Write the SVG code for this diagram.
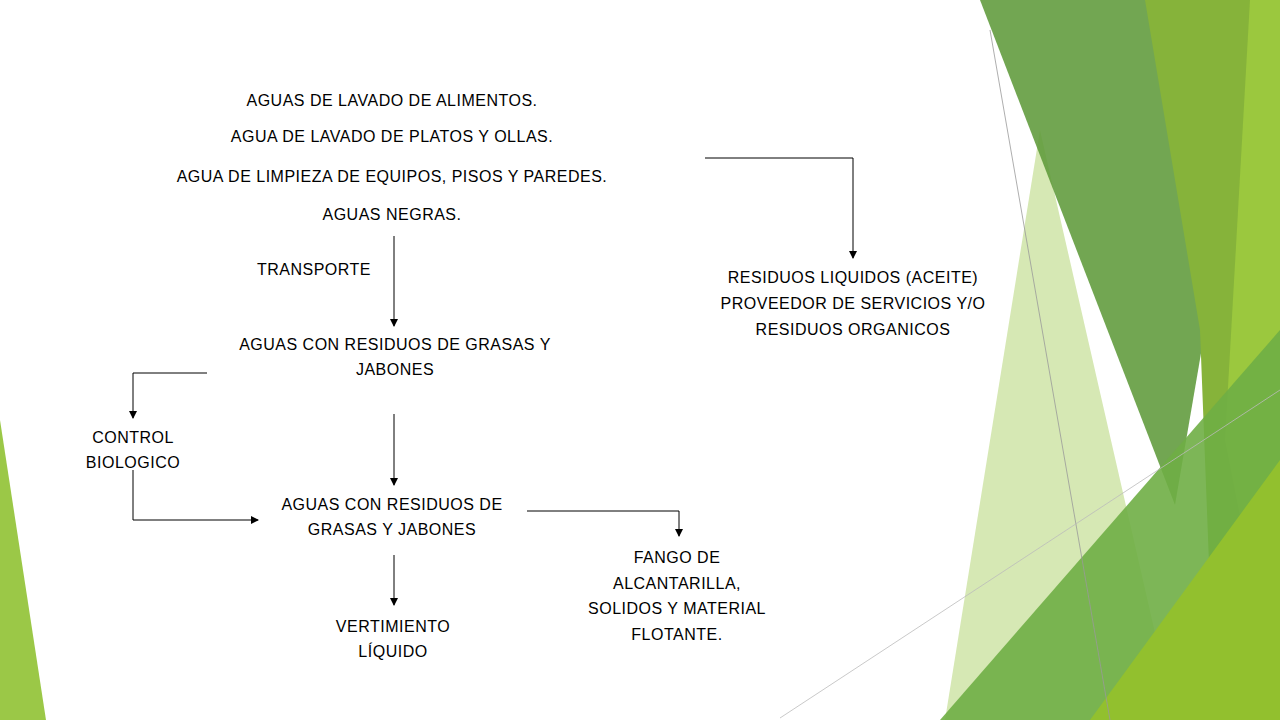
<svg xmlns="http://www.w3.org/2000/svg" width="1280" height="720" viewBox="0 0 1280 720">
<defs>
<marker id="ah" markerWidth="8" markerHeight="8" refX="7" refY="4" orient="auto" markerUnits="userSpaceOnUse"><path d="M0,0 L8,4 L0,8 z" fill="#000"/></marker>
<style>
text{font-family:"Liberation Sans","DejaVu Sans",sans-serif;font-size:16px;fill:#000;text-anchor:middle;letter-spacing:0.5px}
.c{fill:none;stroke:#000;stroke-width:1;marker-end:url(#ah)}
</style>
</defs>
<rect width="1280" height="720" fill="#fff"/>
<g id="decor">
<polygon points="0,420 0,720 46,720" fill="#9bc847"/>
<polygon points="1040,130 1175,720 945,720" fill="#d6e8b4"/>
<polygon points="980,0 1160,0 1205,330 1175,505" fill="#5f9a3a" opacity="0.88"/>
<polygon points="1145,0 1280,0 1280,720 1215,720 1200,330" fill="#86b33a"/>
<polygon points="1250,0 1280,0 1280,720 1225,440" fill="#9bc83e"/>
<polygon points="940,720 1280,330 1280,720" fill="#6fae45" opacity="0.9"/>
<polygon points="1090,720 1280,460 1280,720" fill="#92c02e"/>
<line x1="990" y1="30" x2="1110" y2="720" stroke="#999" stroke-width="0.8"/>
<line x1="780" y1="718" x2="1280" y2="390" stroke="#bbb" stroke-width="0.8"/>
</g>
<g id="n1"><text x="392" y="106">AGUAS DE LAVADO DE ALIMENTOS.</text><text x="392" y="142">AGUA DE LAVADO DE PLATOS Y OLLAS.</text><text x="392" y="182">AGUA DE LIMPIEZA DE EQUIPOS, PISOS Y   PAREDES.</text><text x="392" y="220">AGUAS NEGRAS.</text></g>
<g id="n2"><text x="314" y="275">TRANSPORTE</text></g>
<g id="n3"><text x="853" y="283">RESIDUOS LIQUIDOS (ACEITE)</text><text x="853" y="309">PROVEEDOR DE SERVICIOS Y/O</text><text x="853" y="335">RESIDUOS ORGANICOS</text></g>
<g id="n4"><text x="395" y="350">AGUAS CON RESIDUOS DE GRASAS Y</text><text x="395" y="375">JABONES</text></g>
<g id="n5"><text x="133" y="443">CONTROL</text><text x="133" y="468">BIOLOGICO</text></g>
<g id="n6"><text x="392" y="510">AGUAS CON RESIDUOS DE</text><text x="392" y="535">GRASAS Y JABONES</text></g>
<g id="n7"><text x="677" y="563">FANGO DE</text><text x="677" y="589">ALCANTARILLA,</text><text x="677" y="614">SOLIDOS Y MATERIAL</text><text x="677" y="640">FLOTANTE.</text></g>
<g id="n8"><text x="393" y="632">VERTIMIENTO</text><text x="393" y="657">LÍQUIDO</text></g>
<g id="connectors">
<path class="c" d="M705,158 H853 V258"/>
<path class="c" d="M394,236 V326"/>
<path class="c" d="M207,373 H133 V418"/>
<path class="c" d="M394,414 V485"/>
<path class="c" d="M133,470 V520 H258"/>
<path class="c" d="M527,511 H679 V536"/>
<path class="c" d="M394,555 V605"/>
</g>
</svg>
